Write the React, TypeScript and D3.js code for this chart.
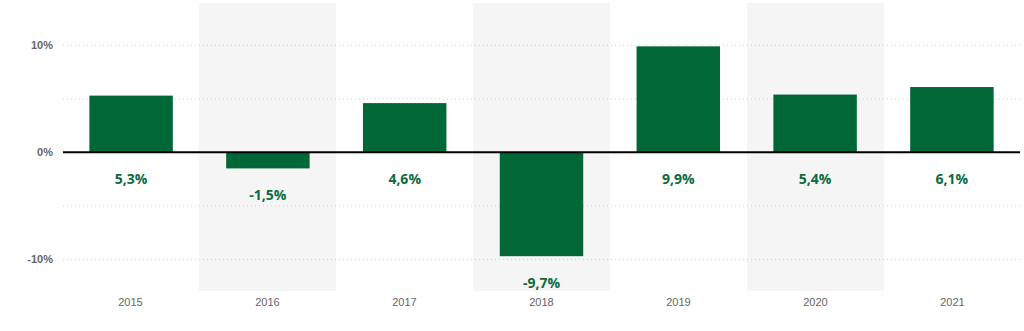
import React from "react";
import * as d3 from "d3";

const years = ["2015", "2016", "2017", "2018", "2019", "2020", "2021"];
const values = [5.3, -1.5, 4.6, -9.7, 9.9, 5.4, 6.1];
const labels = ["5,3%", "-1,5%", "4,6%", "-9,7%", "9,9%", "5,4%", "6,1%"];
const yTicks = [-10, 0, 10];
const gridTicks = [-10, -5, 0, 5, 10];
const shaded = ["2016", "2018", "2020"];

export default function App() {
  const W = 1024, H = 331;
  const x = d3.scaleBand<string>().domain(years).range([62, 1021]).paddingInner(0.39).paddingOuter(0.2);
  const bandX = d3.scaleBand<string>().domain(years).range([62, 1021]);
  const y = d3.scaleLinear().domain([-12.95, 13.95]).range([291, 3]);
  const font = "'Open Sans', 'Noto Sans', Arial, sans-serif";
  const font2 = "'Liberation Sans', Arial, sans-serif";
  return (
    <svg width={W} height={H} style={{ position: "absolute", left: 0, top: 0 }} fontFamily={font}>
      {shaded.map((s) => (
        <rect key={s} x={bandX(s)} y={y(13.95)} width={bandX.bandwidth()} height={y(-12.95) - y(13.95)} fill="#f5f5f5" />
      ))}
      {gridTicks.map((t) => (
        <line key={t} x1={63} x2={1020} y1={y(t)} y2={y(t)} stroke="#cfcfcf" strokeWidth={1} strokeDasharray="1,3" />
      ))}
      {years.map((yr, i) => {
        const v = values[i];
        const top = y(Math.max(0, v));
        const bot = y(Math.min(0, v));
        return (
          <rect key={yr} x={x(yr)} y={top} width={x.bandwidth()} height={bot - top} fill="#006837" />
        );
      })}
      <line x1={63} x2={1020} y1={y(0)} y2={y(0)} stroke="#000" strokeWidth={2} />
      {years.map((yr, i) => {
        const v = values[i];
        const base = y(Math.min(0, v));
        return (
          <text key={yr} x={(x(yr) as number) + x.bandwidth() / 2} y={base + 28} textAnchor="middle" dominantBaseline="middle"
            fontSize={14} fontWeight={700} fill="#0b6b3f">{labels[i]}</text>
        );
      })}
      {yTicks.map((t) => (
        <text key={t} x={53} y={y(t) + 1} textAnchor="end" dominantBaseline="middle" fontSize={11} fontWeight={700} fill="#666" fontFamily={font2}>
          {t + "%"}
        </text>
      ))}
      {years.map((yr) => (
        <text key={yr} x={(bandX(yr) as number) + bandX.bandwidth() / 2} y={303} textAnchor="middle" dominantBaseline="middle"
          fontSize={11} fill="#666" fontFamily={font2}>{yr}</text>
      ))}
    </svg>
  );
}
